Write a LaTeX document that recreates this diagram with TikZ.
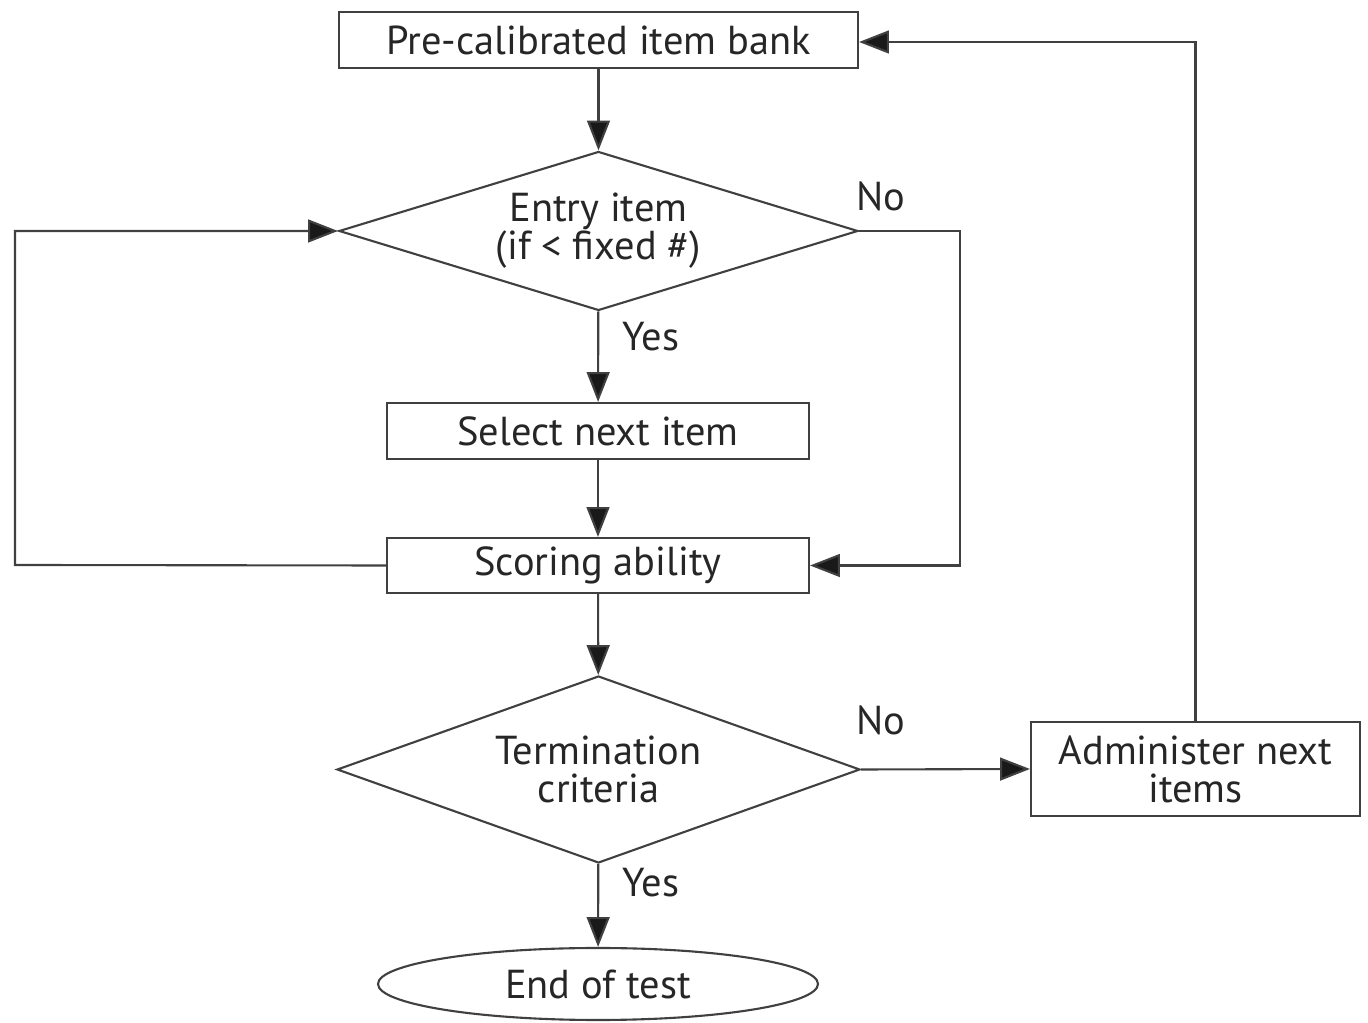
\documentclass[tikz,border=0pt]{standalone}
\usepackage{fontspec}
\setmainfont{PT Sans}
\usetikzlibrary{shapes.geometric,arrows.meta}
\tikzset{
 every node/.style={font=\fontsize{11.5}{10.8}\selectfont, text=black!85},
 flowline/.style={draw=black!75, line width=0.6pt},
 flowarrow/.style={flowline, -{Triangle[length=8.5pt,width=6.5pt,fill=black!90]}},
 procbox/.style={draw=black!75, line width=0.6pt, rectangle, inner sep=0pt},
 decision/.style={draw=black!75, line width=0.6pt, diamond, inner sep=0pt, align=center},
}
\begin{document}
\begin{tikzpicture}
 \useasboundingbox (0,0) rectangle (13.68,-10.23);
 %
 \node[procbox, minimum width=5.19cm, minimum height=0.56cm] (bank) at (5.985,-0.40) {Pre-calibrated item bank};
 \node[decision, aspect=3.26, minimum width=5.19cm, minimum height=1.59cm] (entry) at (5.985,-2.31) {Entry item\\(if < fixed \#)};
 \node[procbox, minimum width=4.22cm, minimum height=0.56cm] (select) at (5.98,-4.31) {Select next item};
 \node[procbox, minimum width=4.22cm, minimum height=0.55cm] (scoring) at (5.98,-5.655) {Scoring ability};
 \node[decision, aspect=2.8, minimum width=5.23cm, minimum height=1.87cm] (term) at (5.985,-7.695) {Termination\\criteria};
 \node[procbox, minimum width=3.29cm, minimum height=0.94cm, align=center] (admin) at (11.955,-7.69) {Administer next\\items};
 \node[ellipse, draw=black!75, line width=0.6pt, minimum width=4.40cm, minimum height=0.72cm, inner sep=0pt] (end) at (5.98,-9.84) {End of test};
 %
 \node (noone) at (8.81,-1.96) {No};
 \node (yesone) at (6.51,-3.37) {Yes};
 \node (notwo) at (8.81,-7.20) {No};
 \node (yestwo) at (6.51,-8.83) {Yes};
 %
 \coordinate (loopl) at (0.15,-5.65);
 \coordinate (loopr) at (9.60,-2.31);
 %
 \draw[flowarrow] (bank) -- (entry);
 \draw[flowarrow] (entry) -- (select);
 \draw[flowarrow] (select) -- (scoring);
 \draw[flowarrow] (scoring) -- (term);
 \draw[flowarrow] (term) -- (end);
 %
 \draw[flowarrow] (entry.east) -- (loopr) |- (scoring.east);
 \draw[flowarrow] (scoring.west) -- (loopl) |- (entry.west);
 %
 \draw[flowarrow] (term.east) -- (admin.west);
 \draw[flowarrow] (admin.north) |- ([yshift=-0.02cm]bank.east);
\end{tikzpicture}
\end{document}
